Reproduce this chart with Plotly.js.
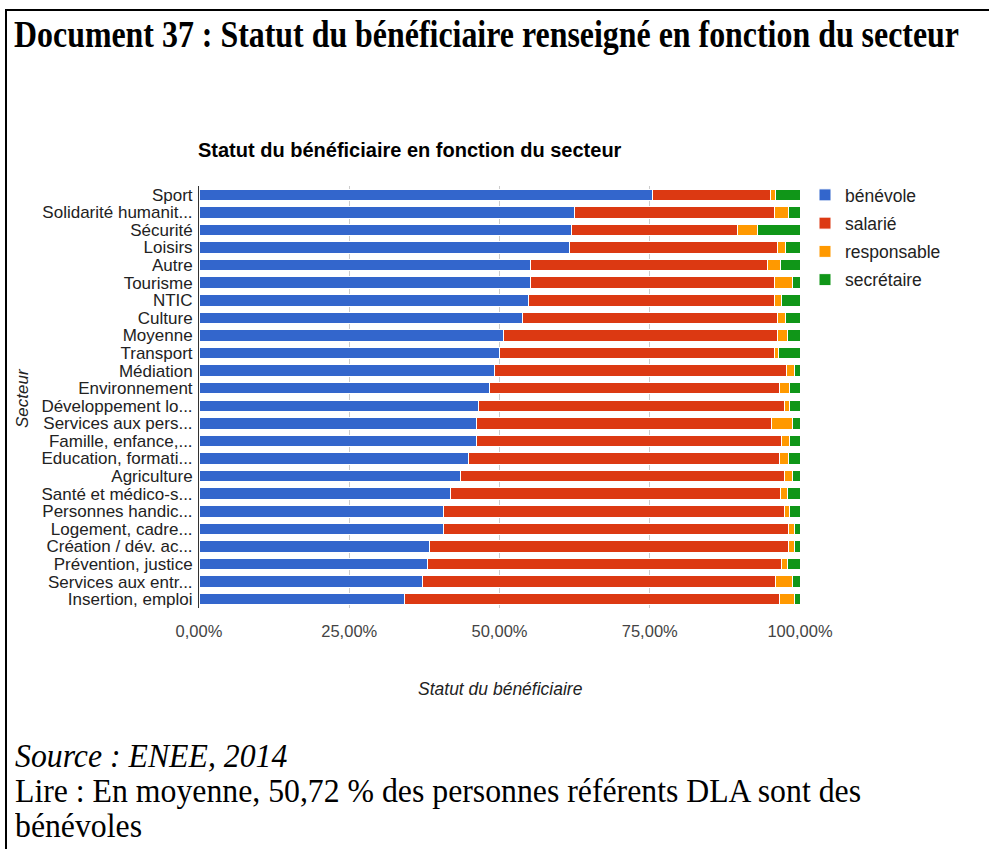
<!DOCTYPE html>
<html>
<head>
<meta charset="utf-8">
<script src="https://cdn.plot.ly/plotly-3.0.1.min.js"></script>
<style>
  html, body { margin: 0; padding: 0; background: #fff; width: 989px; height: 849px; overflow: hidden; }
  #frame { position: absolute; left: 5px; top: 9px; width: 1000px; height: 900px;
           border-left: 2px solid #000; border-top: 2px solid #000; box-sizing: border-box; }
  #chart { position: absolute; left: 0; top: 0; width: 989px; height: 849px; }
  .doc { position: absolute; left: 14px; white-space: nowrap; font-family: "Liberation Serif", "Times New Roman", serif;
         color: #000; transform-origin: 0 0; z-index: 5; }
  #docTitle { font-size: 37px; line-height: 37px; font-weight: bold; top: 16px; }
  .foot { font-size: 33px; line-height: 33px; left: 15px; }
</style>
</head>
<body>
<div id="frame"></div>
<div id="chart"></div>
<div id="docTitle" class="doc">Document 37 : Statut du bénéficiaire renseigné en fonction du secteur</div>
<div id="foot1" class="doc foot" style="top:740px;font-style:italic;">Source : ENEE, 2014</div>
<div id="foot2" class="doc foot" style="top:775px;">Lire : En moyenne, 50,72 % des personnes référents DLA sont des</div>
<div id="foot3" class="doc foot" style="top:810px;">bénévoles</div>
<script>
// ---- data (percentages) ----
const sectors = ["Sport","Solidarité humanit...","Sécurité","Loisirs","Autre","Tourisme","NTIC","Culture","Moyenne","Transport","Médiation","Environnement","Développement lo...","Services aux pers...","Famille, enfance,...","Education, formati...","Agriculture","Santé et médico-s...","Personnes handic...","Logement, cadre...","Création / dév. ac...","Prévention, justice","Services aux entr...","Insertion, emploi"];
const benevole    = [75.5,62.4,61.9,61.6,55.1,55.1,54.9,53.8,50.7,50.0,49.2,48.3,46.5,46.1,46.1,44.8,43.5,41.9,40.6,40.6,38.3,38.1,37.2,34.2];
const salarie     = [19.6,33.3,27.7,34.7,39.5,40.6,40.8,42.5,45.6,45.7,48.6,48.3,50.9,49.2,50.9,51.8,53.9,54.9,56.8,57.5,59.8,58.9,58.8,62.4];
const responsable = [0.8,2.4,3.4,1.3,2.2,3.0,1.3,1.3,1.6,0.8,1.3,1.6,0.8,3.4,1.3,1.5,1.3,1.1,0.9,1.0,1.0,0.9,2.7,2.5];
const secretaire  = [4.1,1.9,7.0,2.4,3.2,1.3,3.0,2.4,2.1,3.5,0.9,1.8,1.8,1.3,1.7,1.9,1.3,2.1,1.7,0.9,0.9,2.1,1.3,0.9];
const seriesNames = ["bénévole","salarié","responsable","secrétaire"];
const seriesColors = ["#3366cc","#dc3912","#ff9900","#109618"];
const xTickVals = [0,25,50,75,100];
const xTickText = ["0,00%","25,00%","50,00%","75,00%","100,00%"];

const seriesData = [benevole, salarie, responsable, secretaire];
const traces = seriesData.map((vals, i) => ({
  type: "bar", orientation: "h", y: sectors, x: vals, name: seriesNames[i],
  legendgroup: "g" + i,
  marker: { color: seriesColors[i], line: { color: "#ffffff", width: 1 } },
  hoverinfo: "skip"
}));

const W = 989, H = 849, L = 199, R = 189, T = 186, B = 241;
const pw = W - L - R, ph = H - T - B;
const px = x => (x - L) / pw;
const py = y => (H - B - y) / ph;
const font = "Arial, 'Liberation Sans', sans-serif";

const layout = {
  width: W, height: H,
  margin: { l: L, r: R, t: T, b: B, pad: 0 },
  paper_bgcolor: "rgba(0,0,0,0)", plot_bgcolor: "rgba(0,0,0,0)",
  barmode: "stack", bargap: 0.35,
  font: { family: font, size: 14, color: "#222" },
  showlegend: true,
  legend: { x: px(805), xanchor: "left", y: py(177), yanchor: "top",
            font: { family: font, size: 17.5, color: "#222" }, traceorder: "grouped",
            tracegroupgap: 2.5, itemwidth: 30, bgcolor: "rgba(0,0,0,0)" },
  xaxis: { range: [0, 100], tickvals: xTickVals, ticktext: xTickText, showgrid: true,
           gridcolor: "#cccccc", gridwidth: 1, zeroline: false, showline: false, ticks: "",
           tickfont: { family: font, size: 16.5, color: "#444" }, ticklabelstandoff: 11, fixedrange: true },
  yaxis: { type: "category", autorange: "reversed", showline: true, linecolor: "#333", linewidth: 1,
           tickmode: "linear", tick0: 0, dtick: 1,
           showgrid: false, zeroline: false, ticks: "", ticklabelstandoff: 2,
           tickfont: { family: font, size: 17, color: "#222" }, fixedrange: true },
  annotations: [
    { text: "<b>Statut du bénéficiaire en fonction du secteur</b>", xref: "paper", yref: "paper",
      x: px(196), y: py(150), xanchor: "left", yanchor: "middle", showarrow: false,
      font: { family: font, size: 20, color: "#000" } },
    { text: "Secteur", xref: "paper", yref: "paper", x: px(22), y: py(398), textangle: -90,
      xanchor: "center", yanchor: "middle", showarrow: false,
      font: { family: font, size: 17, color: "#222", style: "italic" } },
    { text: "Statut du bénéficiaire", xref: "paper", yref: "paper", x: px(500), y: py(689),
      xanchor: "center", yanchor: "middle", showarrow: false,
      font: { family: font, size: 17.5, color: "#222", style: "italic" } }
  ]
};

Plotly.newPlot("chart", traces, layout, { staticPlot: true, displayModeBar: false });

// fit the document texts to the widths seen in the page
function fit(id, target) {
  const el = document.getElementById(id);
  const w = el.getBoundingClientRect().width;
  const s = target / w;
  el.style.transform = "scaleX(" + s + ")";
  return s;
}
fit("docTitle", 945);
const s = fit("foot2", 846);
document.getElementById("foot1").style.transform = "scaleX(" + s + ")";
document.getElementById("foot3").style.transform = "scaleX(" + s + ")";
</script>
</body>
</html>
